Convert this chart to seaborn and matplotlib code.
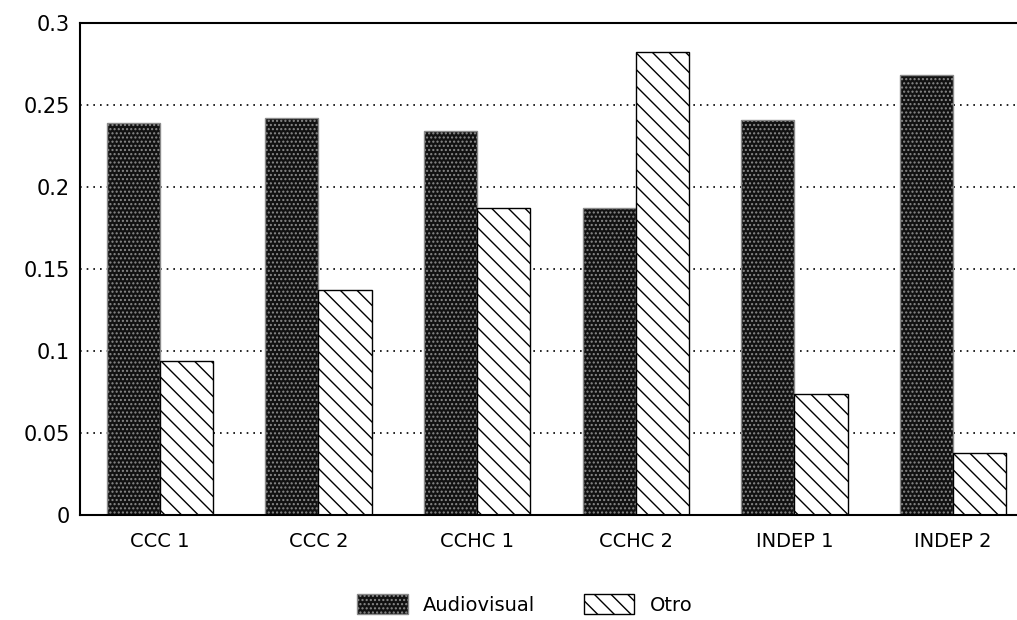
import pandas as pd
import matplotlib
matplotlib.use("Agg")
import matplotlib.pyplot as plt
import seaborn as sns

categories = ["CCC 1", "CCC 2", "CCHC 1", "CCHC 2", "INDEP 1", "INDEP 2"]
audiovisual = [0.239, 0.242, 0.234, 0.187, 0.241, 0.268]
otro = [0.094, 0.137, 0.187, 0.282, 0.074, 0.038]
series = ["Audiovisual", "Otro"]
yticks = [0, 0.05, 0.1, 0.15, 0.2, 0.25, 0.3]
ytick_labels = ["0", "0.05", "0.1", "0.15", "0.2", "0.25", "0.3"]

df = pd.DataFrame({
    "cat": categories * 2,
    "serie": [series[0]] * len(categories) + [series[1]] * len(categories),
    "valor": audiovisual + otro,
})

sns.set_style("white")
plt.rcParams["font.family"] = ["DejaVu Sans"]
plt.rcParams["hatch.linewidth"] = 1.0
plt.rcParams["text.color"] = "black"
plt.rcParams["xtick.color"] = "black"
plt.rcParams["ytick.color"] = "black"

fig = plt.figure(figsize=(10.17, 6.2), dpi=100)
ax = fig.add_axes([0.079, 0.169, 0.93, 0.794])

sns.barplot(data=df, x="cat", y="valor", hue="serie", order=categories,
            hue_order=series, palette=["#111111", "white"], width=0.67,
            edgecolor="black", linewidth=1.0, saturation=1, ax=ax, zorder=2)

# dark bars speckled, light bars hatched
n = len(categories)
for i, p in enumerate(ax.patches[:2 * n]):
    if i < n:
        p.set_facecolor("#111111")
        p.set_edgecolor("#8a8a8a")
        p.set_hatch("....")
    else:
        p.set_facecolor("white")
        p.set_edgecolor("black")
        p.set_hatch("\\\\")

ax.set_ylim(0, 0.3)
ax.set_xlim(-0.5, 5.46)
ax.set_yticks(yticks)
ax.set_yticklabels(ytick_labels)
ax.yaxis.grid(True, linestyle=(0, (1, 3)), color="black", linewidth=1.2)
ax.set_axisbelow(True)
ax.set_xlabel("")
ax.set_ylabel("")
ax.tick_params(axis="y", labelsize=15, length=8, direction="inout", width=1.2)
ax.tick_params(axis="x", labelsize=14, length=0, pad=12)
for s in ["top", "left", "bottom"]:
    ax.spines[s].set_linewidth(1.5)
    ax.spines[s].set_color("black")
ax.spines["right"].set_visible(False)

handles, labels = ax.get_legend_handles_labels()
leg = ax.legend(handles, series, loc="upper center", bbox_to_anchor=(0.47, -0.125),
                ncol=2, frameon=False, fontsize=14, handlelength=2.6,
                handleheight=1.2, columnspacing=2.5)
lh = leg.legend_handles
lh[0].set_facecolor("#111111")
lh[0].set_edgecolor("#8a8a8a")
lh[0].set_hatch("....")
lh[1].set_facecolor("white")
lh[1].set_edgecolor("black")
lh[1].set_hatch("\\\\")

fig.savefig("out.png", dpi=100)
